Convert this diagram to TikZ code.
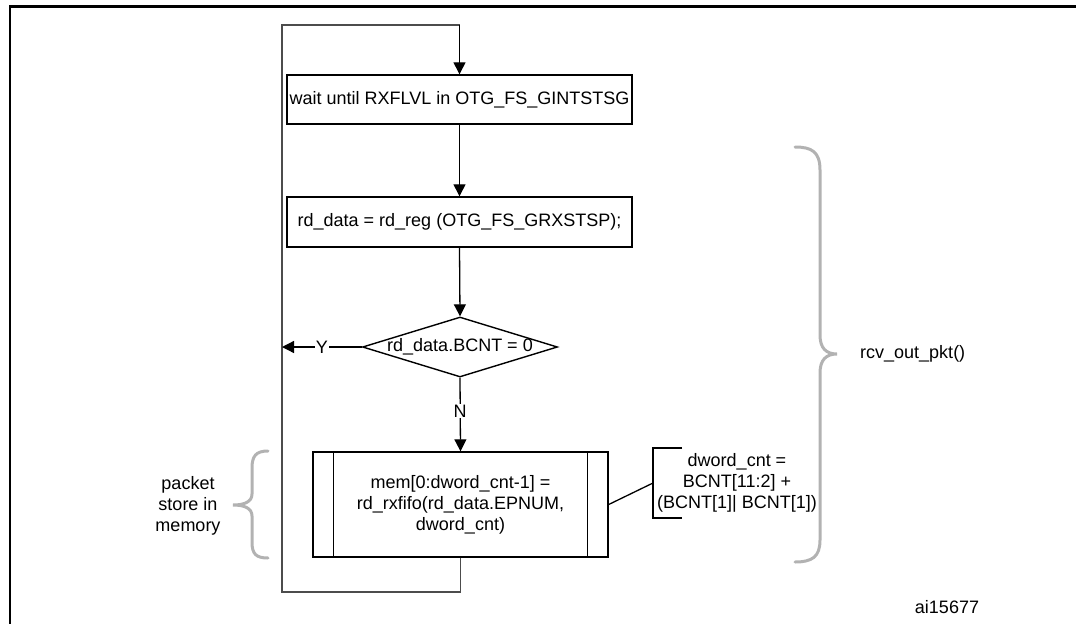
\documentclass[tikz,border=0pt]{standalone}
\usepackage{fontspec}
\setmainfont{Liberation Sans}
\usetikzlibrary{arrows.meta,shapes.geometric}
\begin{document}
\begin{tikzpicture}[x=1pt,y=-1pt,
  every node/.style={font=\fontsize{18}{21}\selectfont},
  flowbox/.style={draw,line width=1.4pt,inner sep=0pt,minimum width=345pt,minimum height=50pt,align=center},
  procbox/.style={draw,line width=1.4pt,inner sep=0pt,minimum width=295pt,minimum height=105pt,align=center},
  decision/.style={draw,diamond,line width=1.4pt,aspect=2.9,inner sep=0pt,minimum width=195pt,minimum height=60pt},
  flow/.style={line width=1.3pt,-{Triangle[length=12pt,width=12pt]}},
  plain/.style={line width=1.3pt},
  loopline/.style={line width=1.4pt,draw=black!70},
  bracestyle/.style={line width=3pt,draw=black!30,line cap=round},
  note/.style={align=center,inner sep=0pt}
]
\useasboundingbox (0,0) rectangle (1076,624);
% outer frame (top and left)
\draw[line width=3pt] (10,6.5) -- (1076,6.5);
\draw[line width=2pt] (10,5) -- (10,624);

% nodes
\node[flowbox,minimum height=49pt] (b1) at (459.5,99.5) {wait until RXFLVL in OTG\_FS\_GINTSTSG};
\node[flowbox] (b2) at (459.5,222) {rd\_data = rd\_reg (OTG\_FS\_GRXSTSP);};
\node[decision] (d) at (460,347) {\makebox[120pt]{rd\_data.BCNT = 0}};
\node[procbox] (b3) at (460.5,504.5) {mem[0:dword\_cnt-1] =\\ rd\_rxfifo(rd\_data.EPNUM,\\ dword\_cnt)};
\draw[line width=1.4pt] ([xshift=21pt]b3.north west) -- ([xshift=21pt]b3.south west);
\draw[line width=1.4pt] ([xshift=-21pt]b3.north east) -- ([xshift=-21pt]b3.south east);

\node[note] (bt) at (737,483) {dword\_cnt =\\ BCNT[11:2] +\\ (BCNT[1]| BCNT[1])};
\node[note] (pk) at (188,506) {packet\\ store in\\ memory};
\node[note,anchor=west] (rc) at (860,354) {rcv\_out\_pkt()};
\node[note] (ai) at (947,607) {ai15677};

% coordinates
\coordinate (loopB) at (b3.south |- 0,592);
\coordinate (loopBL) at (282,592);
\coordinate (loopTL) at (282,25);
\coordinate (loopT) at (b1.north |- 0,25);
\coordinate (yEnd) at (282,347);
\coordinate (brTop) at (682,448);
\coordinate (brTL) at (653,448);
\coordinate (brBL) at (653,518);
\coordinate (brBot) at (682,518);
\coordinate (brMid) at (653,483);

% connectors
\draw[loopline] (b3.south) -- (loopB) -- (loopBL) -- (loopTL) -- (loopT);
\draw[flow] (loopT) -- (b1.north);
\draw[flow] (b1.south) -- (b2.north);
\draw[flow] (b2.south) -- (d.north);
\draw[flow] (d.west) -- node[fill=white,inner sep=1pt] {Y} (yEnd);
\draw[flow] (d.south) -- node[fill=white,inner sep=1pt,pos=0.45] {N} (b3.north);
\draw[plain] (b3.east) -- (brMid);
\draw[line width=1.4pt] (brTop) -- (brTL) -- (brBL) -- (brBot);

% braces
\draw[bracestyle] (795,147) .. controls (812,147) and (820,152) .. (820,170) -- (820,335)
  .. controls (820,348) and (826,354) .. (837,354)
  .. controls (826,354) and (820,360) .. (820,373) -- (820,540)
  .. controls (820,557) and (812,562) .. (795,562);
\draw[bracestyle] (268,451) .. controls (256,451) and (252,456) .. (252,468) -- (252,494)
  .. controls (252,502) and (244,505) .. (233,505)
  .. controls (244,505) and (252,508) .. (252,516) -- (252,542)
  .. controls (252,554) and (256,558) .. (268,558);
\end{tikzpicture}
\end{document}
